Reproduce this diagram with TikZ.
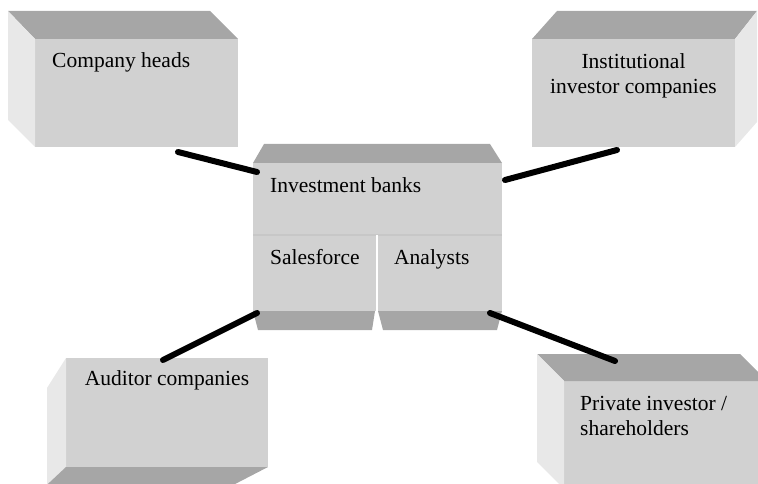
\documentclass[tikz,border=0pt]{standalone}
\usepackage{fontspec}
\setmainfont{Liberation Serif}
\usetikzlibrary{calc}
\definecolor{figfront}{gray}{0.82}
\definecolor{figtop}{gray}{0.65}
\definecolor{figside}{gray}{0.91}
\definecolor{figrule}{gray}{0.78}
\tikzset{
  front/.style={
    rectangle, fill=figfront, inner sep=0pt, outer sep=0pt,
    anchor=north west
  },
  topface/.style={fill=figtop},
  sideface/.style={fill=figside},
  caption/.style={
    font=\fontsize{21.5}{25.5}\selectfont, inner sep=0pt
  },
  link/.style={line width=6pt, line cap=round, draw=black}
}

\begin{document}
\begin{tikzpicture}[x=1pt, y=-1pt]
  \useasboundingbox (0,0) rectangle (758,484);
  \clip (0,0) rectangle (758,484);

  % Front faces
  \node[front, minimum width=203pt, minimum height=108pt] (heads) at (35,39) {};
  \node[front, minimum width=203pt, minimum height=108pt] (inst) at (532,39) {};
  \node[front, minimum width=249pt, minimum height=72pt] (banks) at (253,163) {};
  \node[front, minimum width=124pt, minimum height=76pt] (sales) at (banks.south west) {};
  \node[front, minimum width=125pt, minimum height=76pt] (analysts) at (sales.north east) {};
  \node[front, minimum width=202pt, minimum height=109pt] (auditor) at (66,358) {};
  \node[front, minimum width=210pt, minimum height=115pt] (private) at (564,381) {};

  % Top, side and bottom faces
  \fill[topface] (heads.north west) -- ++(-27,-28) -- ++(202,0) -- (heads.north east) -- cycle;
  \fill[sideface] (heads.north west) -- ++(-27,-28) -- ++(0,109) -- (heads.south west) -- cycle;
  \fill[topface] (inst.north west) -- ++(25,-28) -- ++(200,0) -- (inst.north east) -- cycle;
  \fill[sideface] (inst.north east) -- ++(22,-28) -- ++(0,111) -- (inst.south east) -- cycle;
  \fill[topface] (banks.north west) -- ++(11,-19) -- ++(226,0) -- (banks.north east) -- cycle;
  \fill[topface] (sales.south west) -- ++(5,19) -- ++(114,0) -- ([xshift=-2]sales.south east) -- cycle;
  \fill[topface] ([xshift=1]analysts.south west) -- ++(5,19) -- ++(114,0) -- (analysts.south east) -- cycle;
  \fill[sideface] (auditor.north west) -- ++(-19,30) -- ++(0,109) -- (auditor.south west) -- cycle;
  \fill[topface] (auditor.south west) -- (auditor.south east) -- ++(-58,30) -- ++(-176,0) -- cycle;
  \fill[topface] (private.north west) -- ++(-27,-27) -- ++(203,0) -- ++(27,27) -- cycle;
  \fill[sideface] (private.north west) -- ++(-27,-27) -- ++(0,108) -- ++(27,27) -- cycle;

  % Dividers of the bank box
  \draw[figrule, line width=1.5pt] (banks.south west) -- (banks.south east);
  \draw[white, line width=2pt] (sales.north east) -- (sales.south east);

  % Texts
  \node[caption, anchor=base west] at ([shift={(17,29)}]heads.north west) {Company heads};
  \node[caption, anchor=north, align=center] at ([shift={(0,14.3)}]inst.north) {Institutional\\investor companies};
  \node[caption, anchor=base west] at ([shift={(17,30)}]banks.north west) {Investment banks};
  \node[caption, anchor=base west] at ([shift={(17,29)}]sales.north west) {Salesforce};
  \node[caption, anchor=base west] at ([shift={(17,29)}]analysts.north west) {Analysts};
  \node[caption, anchor=base] at ([shift={(0,27)}]auditor.north) {Auditor companies};
  \node[caption, anchor=north west, align=left] at ([shift={(16,15)}]private.north west) {Private investor /\\shareholders};

  % Connections
  \draw[link] ([shift={(143,5)}]heads.south west) -- ([shift={(4,9)}]banks.north west);
  \draw[link] ([shift={(85,3)}]inst.south west) -- ([shift={(3,17)}]banks.north east);
  \draw[link] ([shift={(97,2)}]auditor.north west) -- ([shift={(4,2)}]sales.south west);
  \draw[link] ([shift={(51,-20)}]private.north west) -- ([shift={(-12,2)}]analysts.south east);

\end{tikzpicture}
\end{document}
